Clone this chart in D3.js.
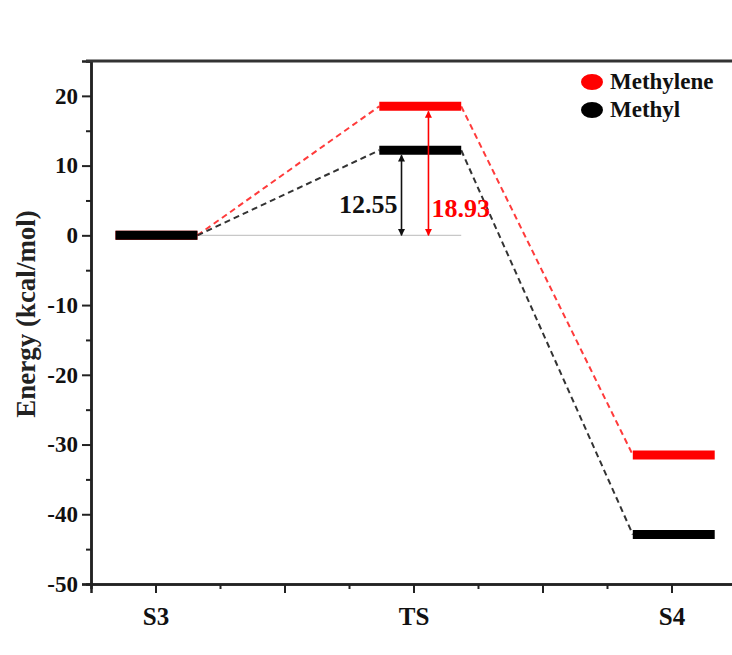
<!DOCTYPE html>
<html>
<head>
<meta charset="utf-8">
<script src="https://cdn.jsdelivr.net/npm/d3@7"></script>
<style>
  body { margin: 0; background: #fff; }
  svg text { font-family: "Liberation Serif", "Times New Roman", serif; font-weight: bold; }
</style>
</head>
<body>
<div id="chart"></div>
<script>
// energy profile S3 -> TS -> S4
var stages = ["S3", "TS", "S4"];
var methylene = [0, 18.5, -31.5];
var methyl = [0, 12.2, -42.9];
var barrierLabels = ["12.55", "18.93"];
var yMajor = [-50, -40, -30, -20, -10, 0, 10, 20];
var yMinor = [-45, -35, -25, -15, -5, 5, 15];
var xMajor = [1, 2, 3, 4, 5];
var xMinor = [1.5, 2.5, 3.5, 4.5];
var legendNames = ["Methylene", "Methyl"];

var width = 732, height = 655;
var red = "#ff0000";

var svg = d3.select("#chart")
	.append("svg")
	.attr("width", width)
	.attr("height", height);

var x = d3.scaleLinear().domain([0.5, 5.5]).range([91, 736]);
var y = d3.scaleLinear().domain([-50, 25]).range([584, 61]);

// stage index -> x position (TS levels sit a bit right of the tick)
var shift = [0, 0.045, 0.01];
function sx(i) { return x(1 + 2 * i + shift[i]); }
var halfL = 0.31, halfR = 0.325;

// axes
var yAxis = svg.append("g")
	.attr("transform", "translate(" + x(0.5) + ",0)")
	.call(d3.axisLeft(y).tickValues(yMajor).tickSize(9).tickPadding(4).tickFormat(function(d) { return String(d); }));
svg.append("g")
	.attr("transform", "translate(" + x(0.5) + ",0)")
	.call(d3.axisLeft(y).tickValues(yMinor).tickSize(5).tickFormat(""));

var xAxis = svg.append("g")
	.attr("transform", "translate(0," + y(-50) + ")")
	.call(d3.axisBottom(x).tickValues(xMajor).tickSize(9).tickPadding(14)
		.tickFormat(function(d) { return d % 2 == 1 ? stages[(d - 1) / 2] : ""; }));
svg.append("g")
	.attr("transform", "translate(0," + y(-50) + ")")
	.call(d3.axisBottom(x).tickValues(xMinor).tickSize(5).tickFormat(""));

svg.selectAll(".domain").attr("stroke", "#222").attr("stroke-width", 2.5);
svg.selectAll(".tick line").attr("stroke", "#222").attr("stroke-width", 2);
yAxis.selectAll("text").style("font-size", "23px").attr("fill", "#111");
xAxis.selectAll("text").style("font-size", "25px").attr("fill", "#111");

// top frame line
svg.append("line")
	.attr("x1", 86).attr("x2", width)
	.attr("y1", y(25)).attr("y2", y(25))
	.attr("stroke", "#333").attr("stroke-width", 3);

// y label
svg.append("text")
	.attr("transform", "translate(35," + 314 + ") rotate(-90)")
	.attr("text-anchor", "middle")
	.style("font-size", "27px")
	.attr("fill", "#222")
	.text("Energy (kcal/mol)");

var dx = function(u) { return x(u) - x(0); };

// thin reference line at 0
svg.append("line")
	.attr("x1", sx(0) + dx(halfR)).attr("x2", sx(1) + dx(halfR))
	.attr("y1", y(0)).attr("y2", y(0))
	.attr("stroke", "#c8c8c8").attr("stroke-width", 1.2);

var series = [
	{ values: methylene, color: red, dash: "#ff3b3b" },
	{ values: methyl, color: "#000", dash: "#333" }
];

// dashed connectors
series.forEach(function(s) {
	for (var i = 0; i < s.values.length - 1; i++) {
		svg.append("line")
			.attr("x1", sx(i) + dx(halfR)).attr("y1", y(s.values[i]))
			.attr("x2", sx(i + 1) - dx(halfL)).attr("y2", y(s.values[i + 1]))
			.attr("stroke", s.dash)
			.attr("stroke-width", 2)
			.attr("stroke-dasharray", "6,4");
	}
});

// energy levels
series.forEach(function(s) {
	svg.selectAll(null)
		.data(s.values)
		.enter()
		.append("line")
		.attr("x1", function(d, i) { return sx(i) - dx(halfL); })
		.attr("x2", function(d, i) { return sx(i) + dx(halfR); })
		.attr("y1", function(d) { return y(d); })
		.attr("y2", function(d) { return y(d); })
		.attr("stroke", s.color)
		.attr("stroke-width", 9);
});

// arrow markers
var defs = svg.append("defs");
[["arrowK", "#111"], ["arrowR", red]].forEach(function(m) {
	defs.append("marker")
		.attr("id", m[0])
		.attr("viewBox", "0 0 10 10")
		.attr("refX", 9).attr("refY", 5)
		.attr("markerWidth", 8).attr("markerHeight", 7)
		.attr("markerUnits", "userSpaceOnUse")
		.attr("orient", "auto-start-reverse")
		.append("path")
		.attr("d", "M0,0 L10,5 L0,10 z")
		.attr("fill", m[1]);
});

// barrier arrows at TS
var arrowX = [2.907, 3.116];
var arrowSeries = [methyl, methylene];
var arrowColor = ["#111", red];
var arrowMarker = ["arrowK", "arrowR"];
arrowX.forEach(function(ax, k) {
	svg.append("line")
		.attr("x1", x(ax)).attr("x2", x(ax))
		.attr("y1", y(arrowSeries[k][1]) + 5)
		.attr("y2", y(0))
		.attr("stroke", arrowColor[k])
		.attr("stroke-width", 1.6)
		.attr("marker-start", "url(#" + arrowMarker[k] + ")")
		.attr("marker-end", "url(#" + arrowMarker[k] + ")");
});

svg.append("text")
	.attr("x", x(arrowX[0]) - 4).attr("y", 213)
	.attr("text-anchor", "end")
	.style("font-size", "26px")
	.attr("fill", "#111")
	.text(barrierLabels[0]);
svg.append("text")
	.attr("x", x(arrowX[1]) + 3).attr("y", 217)
	.style("font-size", "26px")
	.attr("fill", red)
	.text(barrierLabels[1]);

// legend
var legendColors = [red, "#000"];
var legend = svg.selectAll(".legend")
	.data(legendNames)
	.enter()
	.append("g")
	.attr("transform", function(d, i) { return "translate(592," + (82 + i * 28) + ")"; });
legend.append("ellipse")
	.attr("rx", 11).attr("ry", 8)
	.attr("fill", function(d, i) { return legendColors[i]; });
legend.append("text")
	.attr("x", 18).attr("y", 7)
	.style("font-size", "23px")
	.attr("fill", "#111")
	.text(function(d) { return d; });
</script>
</body>
</html>
